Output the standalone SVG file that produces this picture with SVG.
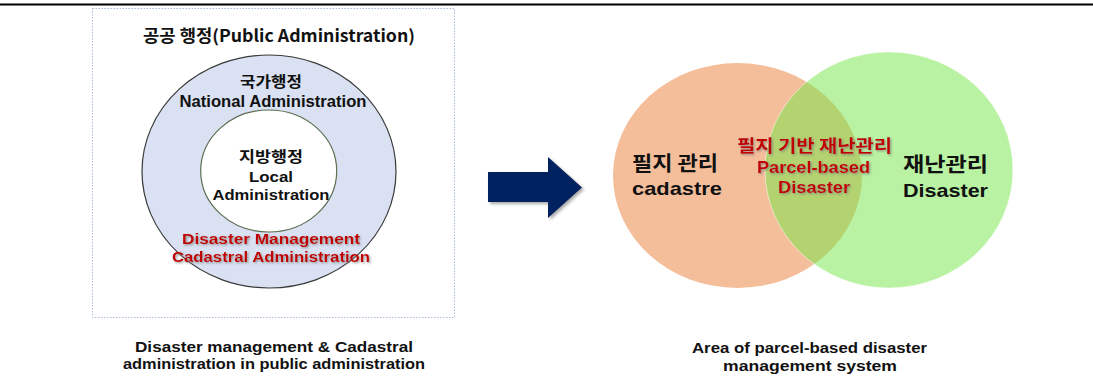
<svg xmlns="http://www.w3.org/2000/svg" width="1093" height="389" viewBox="0 0 1093 389">
  <style>
    .ko { font-family: "Noto Sans CJK KR", "Noto Sans", sans-serif; font-weight: 700; fill: #111; }
    .en { font-family: "Liberation Sans", Arial, sans-serif; font-weight: 700; fill: #111; }
    .red { fill: #c00000; }
    .cap { font-family: "Liberation Sans", Arial, sans-serif; font-weight: 700; fill: #111; }
  </style>
  <defs>
    <filter id="shadow" x="-10%" y="-20%" width="120%" height="150%">
      <feDropShadow dx="1.2" dy="1.2" stdDeviation="0.9" flood-color="#7a7a7a" flood-opacity="0.8"/>
    </filter>
    <filter id="soft" x="-10%" y="-10%" width="125%" height="130%">
      <feDropShadow dx="2" dy="2" stdDeviation="1.5" flood-color="#555" flood-opacity="0.5"/>
    </filter>
  </defs>

  <rect width="1093" height="389" fill="#ffffff"/>
  <!-- rule across the top of the page -->
  <line x1="0" y1="4.5" x2="1093" y2="4.5" stroke="#000" stroke-width="2.2"/>

  <!-- left panel: nested administration levels -->
  <g id="public-administration">
    <rect x="92.5" y="8.5" width="362" height="309" fill="none" stroke="#a9bcd4" stroke-width="1" stroke-dasharray="1.5 1.5"/>
    <text class="ko" x="279" y="42" font-size="17" text-anchor="middle" textLength="272" lengthAdjust="spacingAndGlyphs">공공 행정(Public Administration)</text>
  </g>

  <g id="national-administration">
    <ellipse cx="269" cy="171.5" rx="127" ry="116.5" fill="#d9e1f2" stroke="#3a3a3a" stroke-width="1.2"/>
    <text class="ko" x="271" y="87" font-size="15" text-anchor="middle" textLength="62" lengthAdjust="spacingAndGlyphs">국가행정</text>
    <text class="en" x="273" y="107" font-size="16" text-anchor="middle" textLength="187" lengthAdjust="spacingAndGlyphs">National Administration</text>
  </g>

  <g id="local-administration">
    <ellipse cx="268.7" cy="171" rx="68" ry="61" fill="#ffffff" stroke="#5b6e4f" stroke-width="1.2"/>
    <text class="ko" x="271" y="162" font-size="15" text-anchor="middle" textLength="64" lengthAdjust="spacingAndGlyphs">지방행정</text>
    <text class="en" x="271" y="182" font-size="15.5" text-anchor="middle" textLength="44" lengthAdjust="spacingAndGlyphs">Local</text>
    <text class="en" x="271" y="200" font-size="15.5" text-anchor="middle" textLength="117" lengthAdjust="spacingAndGlyphs">Administration</text>
  </g>

  <g id="disaster-cadastral" filter="url(#shadow)">
    <text class="en red" x="271" y="244" font-size="15.5" text-anchor="middle" textLength="178" lengthAdjust="spacingAndGlyphs">Disaster Management</text>
    <text class="en red" x="271" y="262" font-size="15.5" text-anchor="middle" textLength="198" lengthAdjust="spacingAndGlyphs">Cadastral Administration</text>
  </g>

  <g id="caption-left">
    <text class="cap" x="274" y="352" font-size="15" text-anchor="middle" textLength="278" lengthAdjust="spacingAndGlyphs">Disaster management &amp; Cadastral</text>
    <text class="cap" x="274" y="369" font-size="15" text-anchor="middle" textLength="302" lengthAdjust="spacingAndGlyphs">administration in public administration</text>
  </g>

  <!-- transition arrow -->
  <g id="connectors">
    <polygon points="488,172 548,172 548,157 582,187.5 548,218 548,202 488,202" fill="#002060" filter="url(#soft)"/>
  </g>

  <!-- right panel: overlapping domains -->
  <g id="cadastre">
    <ellipse cx="737.5" cy="175.5" rx="124.5" ry="112.5" fill="#f5be9a"/>
    <text class="ko" x="675" y="171" font-size="20" text-anchor="middle" textLength="86" lengthAdjust="spacingAndGlyphs">필지 관리</text>
    <text class="en" x="677" y="195" font-size="19" text-anchor="middle" textLength="90" lengthAdjust="spacingAndGlyphs">cadastre</text>
  </g>

  <g id="disaster">
    <ellipse cx="889" cy="170" rx="124" ry="118" fill="#71e545" fill-opacity="0.5" stroke="#ffffff" stroke-opacity="0.5" stroke-width="1"/>
    <text class="ko" x="945.5" y="172" font-size="20" text-anchor="middle" textLength="85" lengthAdjust="spacingAndGlyphs">재난관리</text>
    <text class="en" x="945.5" y="197" font-size="19" text-anchor="middle" textLength="85" lengthAdjust="spacingAndGlyphs">Disaster</text>
  </g>

  <g id="parcel-based-disaster" filter="url(#shadow)">
    <text class="ko red" x="814.5" y="152" font-size="17" text-anchor="middle" textLength="155" lengthAdjust="spacingAndGlyphs">필지 기반 재난관리</text>
    <text class="en red" x="813.5" y="173" font-size="17" text-anchor="middle" textLength="113" lengthAdjust="spacingAndGlyphs">Parcel-based</text>
    <text class="en red" x="814" y="193" font-size="17" text-anchor="middle" textLength="72" lengthAdjust="spacingAndGlyphs">Disaster</text>
  </g>

  <g id="caption-right">
    <text class="cap" x="809.5" y="353" font-size="15.5" text-anchor="middle" textLength="235" lengthAdjust="spacingAndGlyphs">Area of parcel-based disaster</text>
    <text class="cap" x="810" y="371" font-size="15.5" text-anchor="middle" textLength="174" lengthAdjust="spacingAndGlyphs">management system</text>
  </g>
</svg>
